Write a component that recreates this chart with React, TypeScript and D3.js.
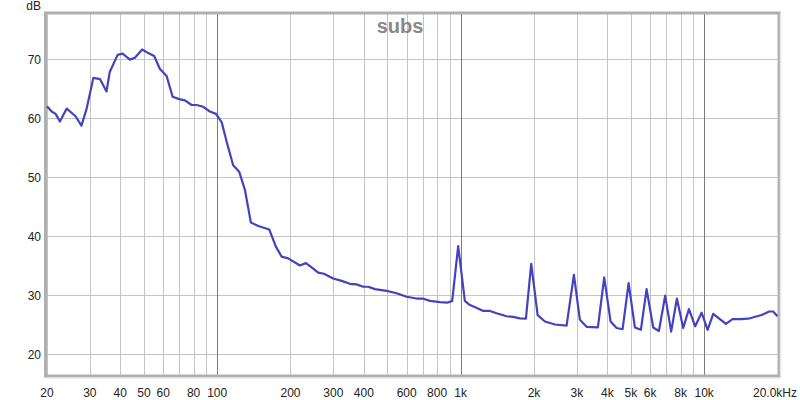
import React from "react";
import * as d3 from "d3";

const freqs = [
  20.0, 20.9, 21.7, 22.6, 24.1, 26.2, 27.7, 29.1, 31.0, 33.0, 35.1, 36.2, 39.0, 40.9, 43.8, 45.9,
  49.2, 52.1, 55.1, 58.2, 62.0, 65.6, 69.8, 73.7, 78.5, 82.3, 87.6, 93.3, 98.8, 104.3, 109.3,
  116.3, 123.1, 130.0, 137.5, 147.4, 163.6, 174.2, 183.9, 195.7, 218.6, 231.4, 244.2, 259.9,
  274.4, 299.6, 324.4, 350.8, 373.6, 397.8, 417.0, 444.2, 496.3, 545.6, 599.7, 659.2, 697.6,
  747.3, 821.5, 880.5, 922.9, 976.5, 1040, 1091, 1166, 1237, 1318, 1404, 1544, 1643, 1751, 1853,
  1948, 2070, 2218, 2438, 2722, 2917, 3087, 3289, 3660, 3885, 4127, 4368, 4623, 4893, 5193, 5495,
  5800, 6174, 6516, 6914, 7318, 7725, 8200, 8654, 9184, 9757, 10330, 10890, 12280, 13080, 14240,
  15410, 17210, 18490, 19200, 20000,
];
const levels = [
  62.0, 61.1, 60.7, 59.4, 61.6, 60.3, 58.7, 61.6, 66.8, 66.6, 64.5, 67.8, 70.7, 70.9, 69.9, 70.2,
  71.6, 71.0, 70.5, 68.3, 67.1, 63.6, 63.2, 63.0, 62.2, 62.2, 61.9, 61.1, 60.7, 59.3, 56.0,
  52.0, 50.9, 47.8, 42.3, 41.7, 41.1, 38.2, 36.5, 36.2, 35.0, 35.4, 34.7, 33.8,
  33.6, 32.8, 32.4, 31.9, 31.8, 31.4, 31.4, 31.0, 30.7, 30.3, 29.7, 29.4, 29.4,
  29.0, 28.8, 28.7, 29.0, 38.3, 29.0, 28.3, 27.8, 27.3, 27.3, 26.9, 26.4, 26.3, 26.05, 26.0,
  35.3, 26.6, 25.5, 25.0, 24.8, 33.4, 25.8, 24.6, 24.5, 33.0, 25.5, 24.4, 24.2, 32.0, 24.5, 24.1,
  31.0, 24.5, 23.9, 29.9, 23.8, 29.4, 24.4, 27.6, 24.7, 27.0, 24.1, 26.8, 25.1, 25.9, 25.9,
  26.05, 26.6, 27.2, 27.2, 26.4,
];

const yTicks = [20, 30, 40, 50, 60, 70];
const xGrid = [
  20, 30, 40, 50, 60, 70, 80, 90, 100, 200, 300, 400, 500, 600, 700, 800, 900,
  1000, 2000, 3000, 4000, 5000, 6000, 7000, 8000, 9000, 10000, 20000,
];
const xMajor = [100, 1000, 10000];
const xLabelValues = [20, 30, 40, 50, 60, 80, 100, 200, 300, 400, 600, 800, 1000, 2000, 3000, 4000, 5000, 6000, 8000, 10000];
const xLabelTexts = ["20", "30", "40", "50", "60", "80", "100", "200", "300", "400", "600", "800", "1k", "2k", "3k", "4k", "5k", "6k", "8k", "10k"];
const lastLabel = "20.0kHz";
const title = "subs";
const yUnit = "dB";

const L = 47, R = 777.5, T = 14, B = 376;

export default function App() {
  const x = d3.scaleLog().domain([20, 20000]).range([L, R]);
  const y = d3.scaleLinear().domain([20, 70]).range([354, 59]);
  const pts = freqs.map((f, i) => [f, levels[i]] as [number, number]);
  const line = d3.line<[number, number]>().x((d) => x(d[0])).y((d) => y(d[1]));
  const font = "'Liberation Sans', Arial, sans-serif";
  return (
    <div style={{ position: "fixed", left: 0, top: 0, width: 800, height: 400, background: "#fff" }}>
      <svg width={800} height={400} style={{ display: "block" }}>
        <rect x={0} y={0} width={800} height={400} fill="#fff" />
        <defs>
          <clipPath id="plot">
            <rect x={L - 1} y={T} width={R - L + 2} height={B - T} />
          </clipPath>
        </defs>
        {yTicks.map((t) => (
          <line key={"h" + t} x1={L} x2={R} y1={Math.round(y(t)) + 0.5} y2={Math.round(y(t)) + 0.5} stroke="#c4c4c4" strokeWidth={1} />
        ))}
        {xGrid.map((t) => (
          <line
            key={"v" + t}
            x1={Math.round(x(t)) + 0.5}
            x2={Math.round(x(t)) + 0.5}
            y1={T}
            y2={B}
            stroke={xMajor.includes(t) ? "#7a7a7a" : "#c4c4c4"}
            strokeWidth={1}
          />
        ))}
        <rect x={L - 1.5} y={T - 1} width={R - L + 3} height={B - T + 1} fill="none" stroke="#b0b0b0" strokeWidth={3} />
        <line x1={R + 3} x2={R + 3} y1={T} y2={B + 2} stroke="#e4e4e4" strokeWidth={1.5} />
        <line x1={L} x2={R + 3} y1={B + 2} y2={B + 2} stroke="#e4e4e4" strokeWidth={1.5} />
        <path d={line(pts) || ""} fill="none" stroke="#4343bd" strokeWidth={2.2} strokeLinejoin="round" clipPath="url(#plot)" />
        {yTicks.map((t) => (
          <text key={"yl" + t} x={41} y={y(t) + 4.5} textAnchor="end" fontFamily={font} fontSize={12} fill="#222">
            {t}
          </text>
        ))}
        <text x={41} y={10} textAnchor="end" fontFamily={font} fontSize={12} fill="#222">
          {yUnit}
        </text>
        {xLabelValues.map((v, i) => (
          <text key={"xl" + v} x={x(v)} y={397} textAnchor="middle" fontFamily={font} fontSize={12} fill="#222">
            {xLabelTexts[i]}
          </text>
        ))}
        <text x={797} y={397} textAnchor="end" fontFamily={font} fontSize={12} fill="#222">
          {lastLabel}
        </text>
        <text x={400} y={33} textAnchor="middle" fontFamily={font} fontSize={20} fontWeight="bold" fill="#888">
          {title}
        </text>
      </svg>
    </div>
  );
}
